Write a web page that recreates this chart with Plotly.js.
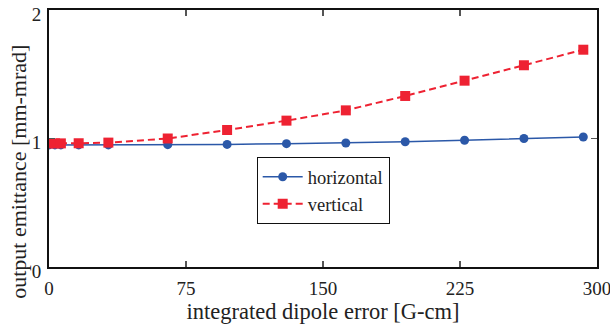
<!DOCTYPE html>
<html>
<head>
<meta charset="utf-8">
<script src="https://cdn.plot.ly/plotly-3.0.1.min.js"></script>
<style>html,body{margin:0;padding:0;background:#fff;}#chart{width:610px;height:332px;}</style>
</head>
<body>
<div id="chart"></div>
<script>
const xValues = [0, 3.25, 6.5, 16.25, 32.5, 65, 97.5, 130, 162.5, 195, 227.5, 260, 292.5];
const horizontal = [0.95, 0.95, 0.95, 0.95, 0.95, 0.952, 0.954, 0.96, 0.965, 0.975, 0.986, 1.0, 1.012];
const vertical = [0.962, 0.962, 0.962, 0.963, 0.968, 1.0, 1.066, 1.139, 1.219, 1.331, 1.45, 1.57, 1.691];
const xTicks = [0, 75, 150, 225, 300];
const yTicks = [0, 1, 2];

const font = {family: 'Liberation Serif, Times New Roman, serif', color: '#222'};

const traces = [
  {x: xValues, y: horizontal, name: 'horizontal', mode: 'lines+markers', type: 'scatter',
   line: {color: '#2b58a8', width: 1.5}, marker: {symbol: 'circle', size: 9, color: '#2b58a8'}},
  {x: xValues, y: vertical, name: 'vertical', mode: 'lines+markers', type: 'scatter',
   line: {color: '#ee2232', width: 2, dash: '7px,4px'}, marker: {symbol: 'square', size: 10, color: '#ee2232'}}
];

const axisCommon = {
  showline: true, linecolor: '#111', linewidth: 2, mirror: 'ticks',
  ticks: 'inside', ticklen: 6, tickcolor: '#555', tickwidth: 1.5,
  showgrid: false, zeroline: false, tickfont: Object.assign({size: 19}, font),
  ticklabeloverflow: 'allow'
};

const layout = {
  width: 610, height: 332,
  margin: {l: 49, r: 13, t: 10, b: 65},
  paper_bgcolor: '#fff', plot_bgcolor: '#fff',
  font: font,
  showlegend: true,
  legend: {x: 0.379, y: 0.427, xanchor: 'left', yanchor: 'top', bgcolor: '#fff',
           bordercolor: '#111', borderwidth: 1, font: Object.assign({size: 18.5}, font),
           itemwidth: 40, tracegroupgap: 0},
  xaxis: Object.assign({}, axisCommon, {range: [0, 300], tickvals: xTicks, ticktext: xTicks.map(String),
    ticklabelstandoff: 3,
    title: {text: 'integrated dipole error [G-cm]', font: Object.assign({size: 22.5}, font), standoff: 5}}),
  yaxis: Object.assign({}, axisCommon, {range: [0, 2], tickvals: yTicks, ticktext: yTicks.map(String),
    ticklabelshift: 4, ticklabelstandoff: 2}),
  annotations: [{
    text: 'output emittance [mm-mrad]', xref: 'paper', yref: 'paper', showarrow: false,
    x: -0.057, y: (267 - 172) / 257, xanchor: 'center', yanchor: 'middle', textangle: -90,
    font: Object.assign({size: 22}, font)
  }]
};

Plotly.newPlot('chart', traces, layout, {displayModeBar: false, staticPlot: true});
</script>
</body>
</html>
